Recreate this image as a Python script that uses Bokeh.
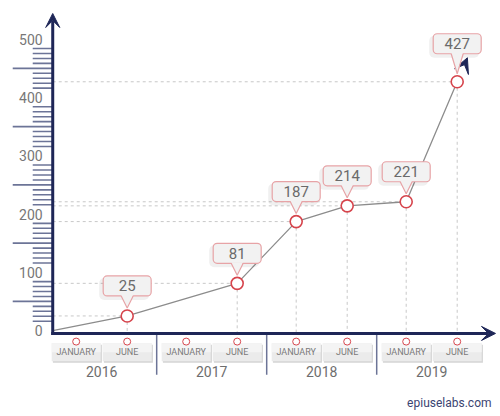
import numpy as np
from bokeh.plotting import figure
from bokeh.models import Arrow, VeeHead, Label
from bokeh.core.properties import value
from bokeh.embed import file_html
from bokeh.resources import INLINE

# data
years = ["2016", "2017", "2018", "2019"]
months = ["JANUARY", "JUNE"]
point_years = ["2016", "2017", "2018", "2018", "2019", "2019"]
point_months = ["JUNE", "JUNE", "JANUARY", "JUNE", "JANUARY", "JUNE"]
point_values = [25, 81, 187, 214, 221, 427]
y_labels = [0, 100, 200, 300, 400, 500]

# layout / style
W, H = 500, 416
x_lo, x_hi = -1.484, 8.32
y_lo, y_hi = -147.6, 566.5
ux = (x_hi - x_lo) / W      # data units per screen px
uy = (y_hi - y_lo) / H
gap = 0.157                 # extra space between year groups
axis_x = -0.46
axis_y = -5

NAVY = "#1e2657"
SLATE = "#6c7497"
RED = "#d6444c"
PINK = "#e7a3a6"
GREY_TXT = "#777777"
FONT = "Roboto"


def slot(year, month):
    return years.index(year) * (len(months) + gap) + months.index(month)


px = [slot(y, m) for y, m in zip(point_years, point_months)]
py = point_values

p = figure(width=W, height=H, x_range=(x_lo, x_hi), y_range=(y_lo, y_hi),
           x_axis_location=None, y_axis_location=None, min_border=0,
           toolbar_location=None, output_backend="svg", outline_line_color=None)
p.grid.visible = False
p.background_fill_color = "white"
p.border_fill_color = "white"

# dashed guides
p.segment(x0=[axis_x] * len(px), y0=py, x1=px, y1=py,
          line_color="#c8c8c8", line_dash="3 3", line_width=1)
p.segment(x0=px, y0=py, x1=px, y1=[axis_y] * len(px),
          line_color="#c8c8c8", line_dash="3 3", line_width=1)

# y ticks: long at the 50s, short ones around them
centers = np.arange(50, 500, 100)
minor = np.concatenate([c + 8.5 * np.array([-4, -3, -2, -1, 1, 2, 3, 4]) for c in centers])
p.segment(x0=axis_x - 40 * ux, y0=centers, x1=axis_x, y1=centers,
          line_color=SLATE, line_width=1.6)
p.segment(x0=axis_x - 20 * ux, y0=minor, x1=axis_x, y1=minor,
          line_color=SLATE, line_width=1.6)
p.text(x=[axis_x] * len(y_labels), y=y_labels, text=[str(v) for v in y_labels],
       x_offset=-10, text_align="right", text_baseline="middle",
       text_font=value(FONT), text_font_size="14px", text_color=GREY_TXT)

# end-of-line arrow behind last point
head = VeeHead(size=15, fill_color=NAVY, line_color=NAVY)
p.add_layout(Arrow(end=head, x_start=px[-2], y_start=py[-2],
                   x_end=px[-1] + 0.2 * (px[-1] - px[-2]),
                   y_end=py[-1] + 0.2 * (py[-1] - py[-2]),
                   line_alpha=0, level="underlay"))

# axes with arrows
p.add_layout(Arrow(end=VeeHead(size=14, fill_color=NAVY, line_color=NAVY),
                   x_start=axis_x, y_start=axis_y - 1.5 * uy, x_end=axis_x, y_end=y_hi - 13 * uy,
                   line_color=NAVY, line_width=3))
p.add_layout(Arrow(end=VeeHead(size=14, fill_color=NAVY, line_color=NAVY),
                   x_start=axis_x - 1.5 * ux, y_start=axis_y, x_end=x_hi - 5 * ux, y_end=axis_y,
                   line_color=NAVY, line_width=3))

# month buttons under the x axis
slots = [slot(y, m) for y in years for m in months]
slot_names = [m for y in years for m in months]
box_y = -37.5
p.rect(x=[s + 1.2 * ux for s in slots], y=box_y - 1.5 * uy, width=49, height=18,
       width_units="screen", height_units="screen", fill_color="#d4d4d4", line_color=None)
p.rect(x=slots, y=box_y, width=49, height=18, width_units="screen", height_units="screen",
       fill_color="#ebebeb", line_color=None)
p.rect(x=slots, y=box_y + 4.5 * uy, width=49, height=9, width_units="screen", height_units="screen",
       fill_color="#f4f4f4", line_color=None)
p.text(x=slots, y=box_y, text=slot_names, text_align="center", text_baseline="middle",
       text_font=value(FONT), text_font_size="9px", text_color="#7a7a7a")
p.scatter(x=slots, y=-19, size=7, marker="circle", fill_color="white",
          line_color=RED, line_width=1)

# year labels and separators
year_mid = [slot(y, months[0]) + 0.5 for y in years]
p.text(x=year_mid, y=-70, text=years, text_align="center", text_baseline="middle",
       text_font=value(FONT), text_font_size="14px", text_color="#6e6e6e")
seps = [(slot(years[i], months[-1]) + slot(years[i + 1], months[0])) / 2 for i in range(len(years) - 1)]
p.segment(x0=seps, y0=axis_y, x1=seps, y1=-76, line_color=SLATE, line_width=1.5)

# data line
p.line(x=[axis_x] + px, y=[0] + py, line_color="#8c8c8c", line_width=1.3)

# callouts
lift = [30, 30, 30, 30, 30, 38]
box_cy = [v + l * uy for v, l in zip(py, lift)]
p.rect(x=[x - 3 * ux for x in px], y=[c - 3 * uy for c in box_cy], width=50, height=22,
       width_units="screen", height_units="screen", fill_color="black", fill_alpha=0.06,
       line_color=None, border_radius=5)
p.rect(x=px, y=box_cy, width=48, height=20, width_units="screen", height_units="screen",
       fill_color="#f2f2f2", line_color=PINK, line_width=1.2, border_radius=4)
tri_x = [[x - 6 * ux, x + 6 * ux, x] for x in px]
tri_y = [[v + (l - 9) * uy, v + (l - 9) * uy, v + 8 * uy] for v, l in zip(py, lift)]
p.patches(xs=tri_x, ys=tri_y, fill_color="#f2f2f2", line_color=None)
p.multi_line(xs=[[x - 6 * ux, x, x + 6 * ux] for x in px],
             ys=[[v + (l - 10) * uy, v + 8 * uy, v + (l - 10) * uy] for v, l in zip(py, lift)],
             line_color=PINK, line_width=1.2)
p.text(x=px, y=box_cy, text=[str(v) for v in py], text_align="center", text_baseline="middle",
       text_font=value(FONT), text_font_size="15px", text_color="#6a6a6a")

# markers
p.scatter(x=px, y=py, size=12, marker="circle", fill_color="white",
          line_color=RED, line_width=1.6)

p.add_layout(Label(x=491, y=14, x_units="screen", y_units="screen", text="epiuselabs.com",
                   text_align="right", text_baseline="middle", text_font=FONT,
                   text_font_size="12px", text_color="#3b4471"))

open("out.html", "w").write(file_html(p, INLINE))
